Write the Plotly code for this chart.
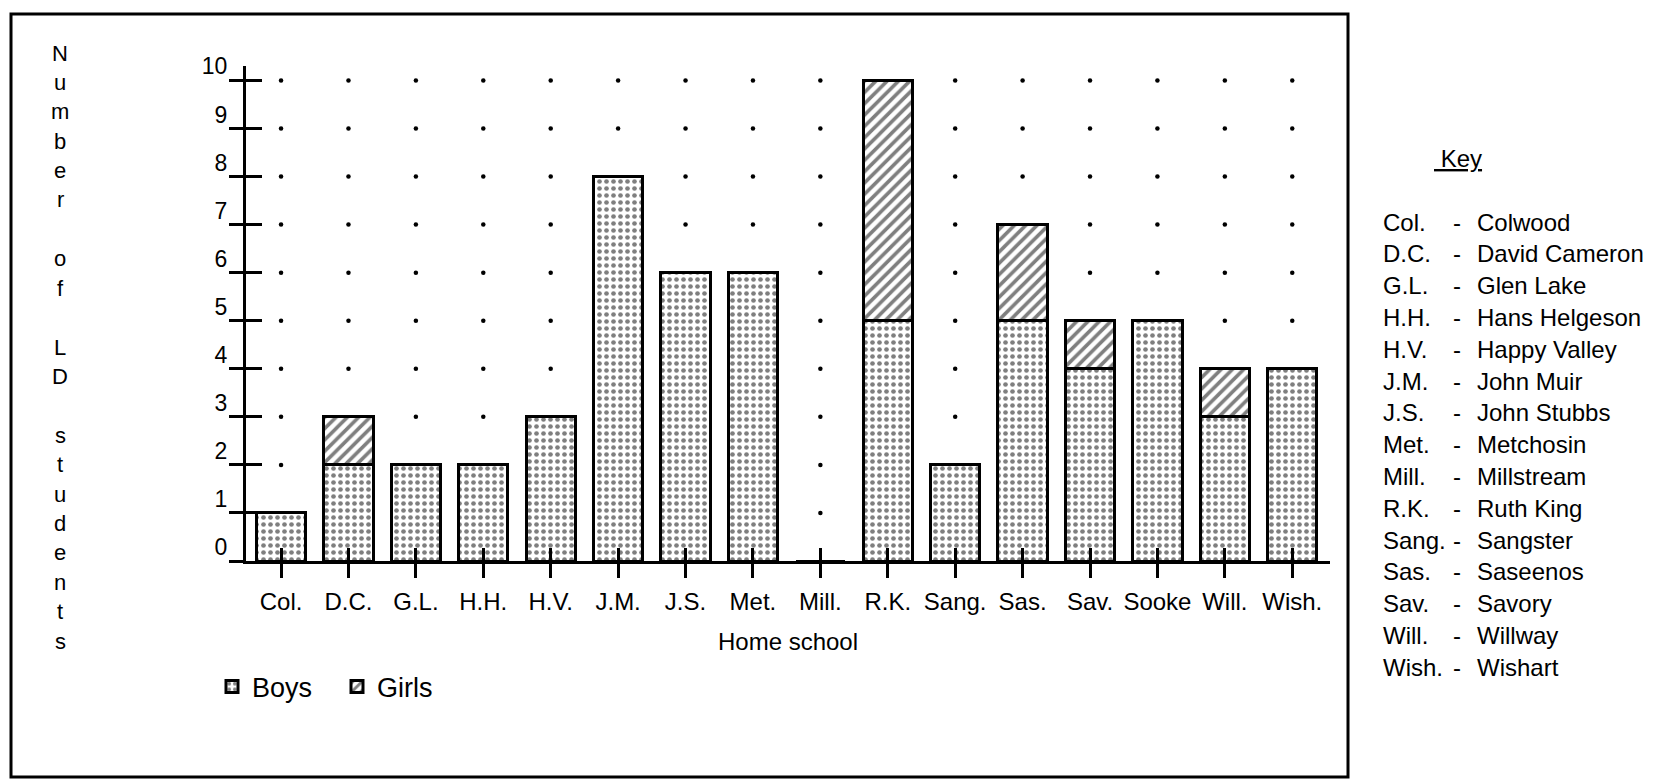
import plotly.graph_objects as go

# ---- data ----
schools = ["Col.", "D.C.", "G.L.", "H.H.", "H.V.", "J.M.", "J.S.", "Met.", "Mill.",
           "R.K.", "Sang.", "Sas.", "Sav.", "Sooke", "Will.", "Wish."]
boys = [1, 2, 2, 2, 3, 8, 6, 6, 0, 5, 2, 5, 4, 5, 3, 4]
girls = [0, 1, 0, 0, 0, 0, 0, 0, 0, 5, 0, 2, 1, 0, 1, 0]
y_ticks = list(range(0, 11))
y_title = "Number of LD students"
x_title = "Home school"
key_abbr = ["Col.", "D.C.", "G.L.", "H.H.", "H.V.", "J.M.", "J.S.", "Met.", "Mill.",
            "R.K.", "Sang.", "Sas.", "Sav.", "Will.", "Wish."]
key_names = ["Colwood", "David Cameron", "Glen Lake", "Hans Helgeson", "Happy Valley",
             "John Muir", "John Stubbs", "Metchosin", "Millstream", "Ruth King",
             "Sangster", "Saseenos", "Savory", "Willway", "Wishart"]

FONT = "Liberation Sans, Arial, Helvetica, sans-serif"
W, H = 1663, 781
L, R, T, B = 246, 333, 66, 220
PW, PH = W - L - R, H - T - B


def px_x(px):
    return (px - L) / PW


def px_y(py):
    return (H - B - py) / PH


fig = go.Figure()

# background dot grid (only where no bar covers it)
totals = [b + g for b, g in zip(boys, girls)]
dot_x, dot_y = [], []
for k in y_ticks[1:]:
    for i, t in enumerate(totals):
        if t < k:
            dot_x.append(i)
            dot_y.append(k)
fig.add_trace(go.Scatter(x=dot_x, y=dot_y, mode="markers", xaxis="x2", yaxis="y2",
                         marker=dict(color="black", size=4.5, symbol="circle"),
                         showlegend=False, hoverinfo="skip"))

fig.add_trace(go.Bar(
    x=schools, y=boys, name="Boys",
    marker=dict(color="white", line=dict(color="black", width=3),
                pattern=dict(shape=".", fgcolor="black", bgcolor="white",
                             size=7, solidity=0.35)),
))
fig.add_trace(go.Bar(
    x=schools, y=[g if g else None for g in girls], name="Girls",
    marker=dict(color="white", line=dict(color="black", width=3),
                pattern=dict(shape="/", fgcolor="black", bgcolor="white",
                             size=8, solidity=0.45)),
))

xr = [-0.52, 15.56]
yr = [0, 10.3]

annotations = []
# vertical y title, one letter per line
y0 = 53
step = 29.4
for j, ch in enumerate(y_title):
    if ch == " ":
        continue
    annotations.append(dict(x=px_x(60), y=px_y(y0 + j * step), xref="paper", yref="paper",
                            text=ch, showarrow=False, xanchor="center", yanchor="middle",
                            font=dict(family=FONT, size=22, color="black")))

# key
KF = 24
annotations.append(dict(x=px_x(1432), y=px_y(158), xref="paper", yref="paper",
                        text="<u>\u00a0Key</u>", showarrow=False, xanchor="left", yanchor="middle",
                        font=dict(family=FONT, size=KF, color="black")))
ky0 = 222
kstep = 31.8
for i, (a, n) in enumerate(zip(key_abbr, key_names)):
    yy = px_y(ky0 + i * kstep)
    annotations.append(dict(x=px_x(1381), y=yy, xref="paper", yref="paper", text=a,
                            showarrow=False, xanchor="left", yanchor="middle",
                            font=dict(family=FONT, size=KF, color="black")))
    annotations.append(dict(x=px_x(1457), y=yy, xref="paper", yref="paper", text="-",
                            showarrow=False, xanchor="center", yanchor="middle",
                            font=dict(family=FONT, size=KF, color="black")))
    annotations.append(dict(x=px_x(1475), y=yy, xref="paper", yref="paper", text=n,
                            showarrow=False, xanchor="left", yanchor="middle",
                            font=dict(family=FONT, size=KF, color="black")))

fig.update_layout(
    width=W, height=H,
    margin=dict(l=L, r=R, t=T, b=B, pad=0),
    paper_bgcolor="white", plot_bgcolor="white",
    barmode="stack", bargap=0.27,
    font=dict(family=FONT, size=24, color="black"),
    showlegend=True,
    legend=dict(orientation="h", x=px_x(212), y=px_y(687), xanchor="left", yanchor="middle",
                traceorder="normal", font=dict(family=FONT, size=27, color="black"),
                entrywidth=80, bgcolor="rgba(0,0,0,0)"),
    xaxis=dict(type="category", range=xr, showline=True, linecolor="black", linewidth=3,
               ticks="outside", ticklen=14, tickwidth=2.5, tickcolor="black",
               showgrid=False, zeroline=False, ticklabelstandoff=3,
               tickfont=dict(family=FONT, size=24, color="black"),
               title=dict(text=x_title, font=dict(family=FONT, size=24, color="black"), standoff=20)),
    yaxis=dict(range=yr, tickvals=y_ticks, showline=True, linecolor="black", linewidth=3,
               ticks="outside", ticklen=14, tickwidth=2.5, tickcolor="black",
               showgrid=False, zeroline=False, ticklabelshift=-14, ticklabelstandoff=-3,
               tickfont=dict(family=FONT, size=23, color="black")),
    xaxis2=dict(overlaying="x", anchor="y2", range=xr, tickvals=list(range(len(schools))),
                ticks="inside", ticklen=13, tickwidth=2.5, tickcolor="black",
                showticklabels=False, showline=False, showgrid=False, zeroline=False),
    yaxis2=dict(overlaying="y", anchor="x2", range=yr, tickvals=y_ticks,
                ticks="inside", ticklen=16, tickwidth=2.5, tickcolor="black",
                showticklabels=False, showline=False, showgrid=False, zeroline=False),
    annotations=annotations,
    shapes=[dict(type="rect", xref="paper", yref="paper",
                 x0=px_x(11), x1=px_x(1348), y0=px_y(777), y1=px_y(14),
                 line=dict(color="black", width=3), fillcolor="rgba(0,0,0,0)", layer="below")],
)

fig.write_html("out.html", config={"displayModeBar": False},
               post_script="document.body.style.margin='0';document.body.style.overflow='hidden';")
